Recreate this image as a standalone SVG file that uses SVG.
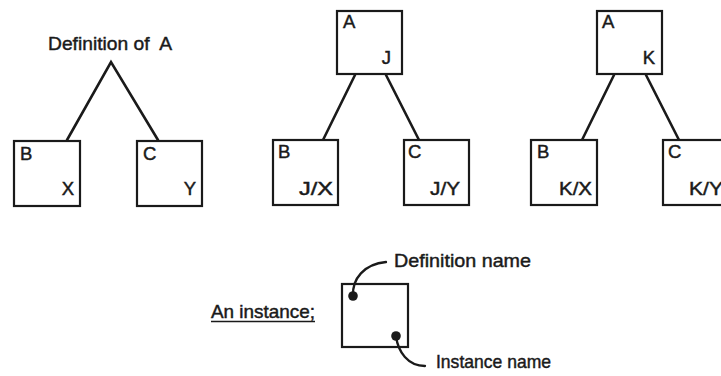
<svg xmlns="http://www.w3.org/2000/svg" width="721" height="376" viewBox="0 0 721 376">
  <style>
    .box { fill: #ffffff; stroke: #1a1a1a; stroke-width: 2.2; }
    .edge { fill: none; stroke: #1a1a1a; stroke-width: 2.6; stroke-linecap: round; }
    .lead { fill: none; stroke: #1a1a1a; stroke-width: 2.3; stroke-linecap: round; }
    .dot { fill: #1a1a1a; }
    text { font-family: "Liberation Sans", Arial, sans-serif; fill: #1a1a1a; stroke: #1a1a1a; stroke-width: 0.45; }
    .lbl { font-size: 18.5px; }
    .end { text-anchor: end; }
    .cap { font-size: 19px; }
  </style>
  <rect width="721" height="376" fill="#ffffff"/>

  <!-- connectors -->
  <g id="connectors">
    <polyline class="edge" points="67,140 111,62 158,140"/>
    <line class="edge" x1="355" y1="75" x2="323" y2="140"/>
    <line class="edge" x1="386" y1="75" x2="419" y2="140"/>
    <line class="edge" x1="614" y1="75" x2="582" y2="140"/>
    <line class="edge" x1="646" y1="75" x2="679" y2="140"/>
  </g>

  <!-- definition of A -->
  <g id="def-title">
    <text class="cap" x="48" y="50" textLength="124" lengthAdjust="spacingAndGlyphs" xml:space="preserve">Definition of  A</text>
  </g>
  <g id="def-B">
    <rect class="box" x="14" y="141" width="66" height="65"/>
    <text class="lbl" x="20" y="160">B</text>
    <text class="lbl end" x="74" y="195">X</text>
  </g>
  <g id="def-C">
    <rect class="box" x="137" y="141" width="65" height="65"/>
    <text class="lbl" x="143" y="160">C</text>
    <text class="lbl end" x="196" y="195">Y</text>
  </g>

  <!-- instance J -->
  <g id="J-A">
    <rect class="box" x="337" y="11" width="65" height="63"/>
    <text class="lbl" x="343" y="28">A</text>
    <text class="lbl end" x="391" y="64">J</text>
  </g>
  <g id="J-B">
    <rect class="box" x="273" y="140" width="65" height="65"/>
    <text class="lbl" x="278" y="158">B</text>
    <text class="lbl end" x="333" y="195" textLength="34" lengthAdjust="spacingAndGlyphs">J/X</text>
  </g>
  <g id="J-C">
    <rect class="box" x="404" y="140" width="65" height="65"/>
    <text class="lbl" x="408" y="158">C</text>
    <text class="lbl end" x="460" y="195" textLength="30" lengthAdjust="spacingAndGlyphs">J/Y</text>
  </g>

  <!-- instance K -->
  <g id="K-A">
    <rect class="box" x="597" y="11" width="65" height="63"/>
    <text class="lbl" x="602" y="28">A</text>
    <text class="lbl end" x="655" y="64">K</text>
  </g>
  <g id="K-B">
    <rect class="box" x="531" y="140" width="66" height="65"/>
    <text class="lbl" x="537" y="158">B</text>
    <text class="lbl end" x="592" y="195" textLength="33" lengthAdjust="spacingAndGlyphs">K/X</text>
  </g>
  <g id="K-C">
    <rect class="box" x="663" y="140" width="66" height="65"/>
    <text class="lbl" x="668" y="158">C</text>
    <text class="lbl" x="689" y="195" textLength="34" lengthAdjust="spacingAndGlyphs">K/Y</text>
  </g>

  <!-- legend: an instance -->
  <g id="legend">
    <text class="lbl" x="211" y="318" textLength="104" lengthAdjust="spacingAndGlyphs">An instance;</text>
    <line x1="211" y1="321.5" x2="315" y2="321.5" stroke="#1a1a1a" stroke-width="1.4"/>
    <rect class="box" x="342" y="284" width="66" height="63"/>
    <circle class="dot" cx="353" cy="296" r="4.8"/>
    <circle class="dot" cx="396" cy="336" r="4.8"/>
    <path class="lead" d="M353,296 C352,279 364,264 386,262"/>
    <path class="lead" d="M396,336 C398,352 408,366 425,366"/>
    <text class="lbl" x="394" y="267" textLength="137" lengthAdjust="spacingAndGlyphs">Definition name</text>
    <text class="lbl" x="436" y="368" textLength="115" lengthAdjust="spacingAndGlyphs">Instance name</text>
  </g>
</svg>
